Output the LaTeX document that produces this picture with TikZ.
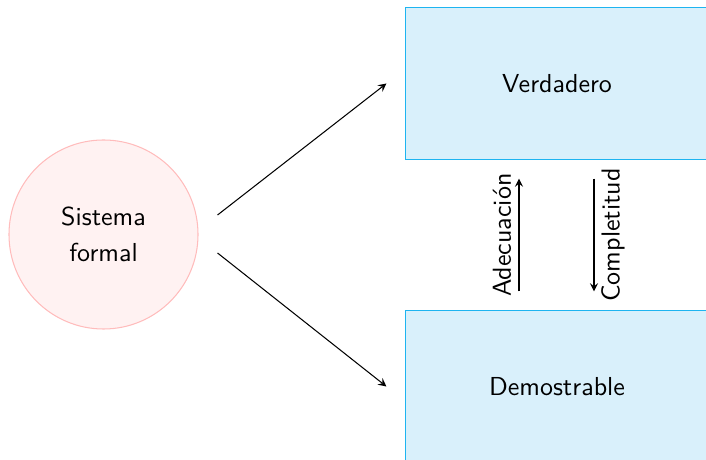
\documentclass[tikz,border=0pt]{standalone}
\usetikzlibrary{arrows}
\definecolor{pinkfill}{RGB}{255,242,242}
\definecolor{pinkdraw}{RGB}{255,188,188}
\definecolor{bluefill}{RGB}{217,240,251}
\definecolor{bluedraw}{RGB}{30,180,240}
\tikzset{
  sysnode/.style={circle, draw=pinkdraw, fill=pinkfill, minimum size=72.7pt, inner sep=0pt, align=center, font=\sffamily},
  boxnode/.style={rectangle, draw=bluedraw, fill=bluefill, minimum width=116.2pt, minimum height=58.1pt, inner sep=0pt, font=\sffamily},
  conn/.style={-stealth, line width=0.4pt},
  lbl/.style={rotate=90, font=\sffamily, inner sep=0pt}
}
\begin{document}
\begin{tikzpicture}[x=0.3846pt, y=-0.3846pt]
\useasboundingbox (0,0) rectangle (706,460);
\begin{scope}
\clip (0,0) rectangle (706,460);
\node[sysnode] (sf) at (103.5,234.5) {Sistema\\[2pt]formal};
\node[boxnode] (ver) at (557,83.5) {Verdadero};
\node[boxnode] (dem) at (557,386.5) {Demostrable};
\draw[conn] ([shift={(19,-19.5)}]sf.east) -- ([shift={(-19,0)}]ver.west);
\draw[conn] ([shift={(19,18.5)}]sf.east) -- ([shift={(-19,0)}]dem.west);
\draw[conn] ([shift={(-38,-19)}]dem.north) -- ([shift={(-38,19)}]ver.south);
\draw[conn] ([shift={(37,19)}]ver.south) -- ([shift={(37,-19)}]dem.north);
\node[lbl] (ade) at (502,235) {Adecuación};
\node[lbl] (com) at (613,235) {Completitud};
\end{scope}
\end{tikzpicture}
\end{document}
